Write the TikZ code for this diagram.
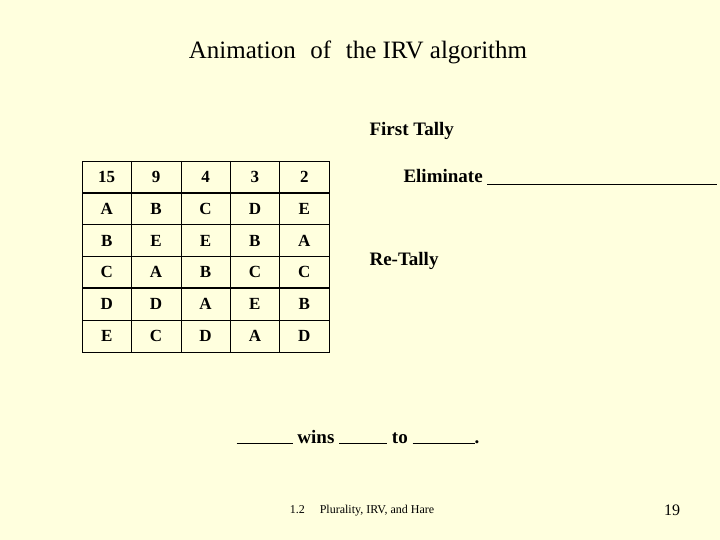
\documentclass[tikz,border=0pt]{standalone}
\usepackage{fontspec}
\setmainfont{Liberation Serif}
\definecolor{bg}{RGB}{255,255,222}
\begin{document}
\begin{tikzpicture}[x=1pt,y=-1pt,
  cell/.style={font=\bfseries\fontsize{17}{19}\selectfont},
  lbl/.style={font=\bfseries\fontsize{19}{22}\selectfont}]
\fill[bg] (0,0) rectangle (720,540);
\useasboundingbox (0,0) rectangle (720,540);
\node[font=\fontsize{25}{30}\selectfont] (title) at (358,52) {Animation\,\, of\,\, the IRV algorithm};
\node[lbl,anchor=west] (first) at (366,131) {First Tally};
\node[lbl,anchor=west] (elim) at (400,177) {Eliminate \rule[-2pt]{230pt}{0.6pt}};
\node[lbl,anchor=west] (ret) at (366,261) {Re-Tally};
\node[lbl] (wins) at (358,437) {\rule{56pt}{0.6pt} wins \rule{48pt}{0.6pt} to \rule{62pt}{0.6pt}.};
\node[font=\fontsize{12}{14}\selectfont] (foot) at (362,511) {1.2\quad\ Plurality, IRV, and Hare};
\node[font=\fontsize{16}{18}\selectfont] (pg) at (672,510) {19};
% table
\draw[line width=0.8pt] (82,161) rectangle (329,352);
\foreach \x in {131,181,230,279} \draw[line width=0.8pt] (\x,161) -- (\x,352);
\foreach \y in {224,256,320} \draw[line width=0.8pt] (82,\y) -- (329,\y);
\foreach \y in {193,288} \draw[line width=1.8pt] (82,\y) -- (329,\y);
\foreach \r [count=\i] in {{15,9,4,3,2},{A,B,C,D,E},{B,E,E,B,A},{C,A,B,C,C},{D,D,A,E,B},{E,C,D,A,D}}{
  \foreach \v [count=\j] in \r {
    \node[cell] (c\i\j) at ({82+49.4*(\j-0.5)},{161+31.8*(\i-0.5)}) {\v};
  }
}
\end{tikzpicture}
\end{document}
